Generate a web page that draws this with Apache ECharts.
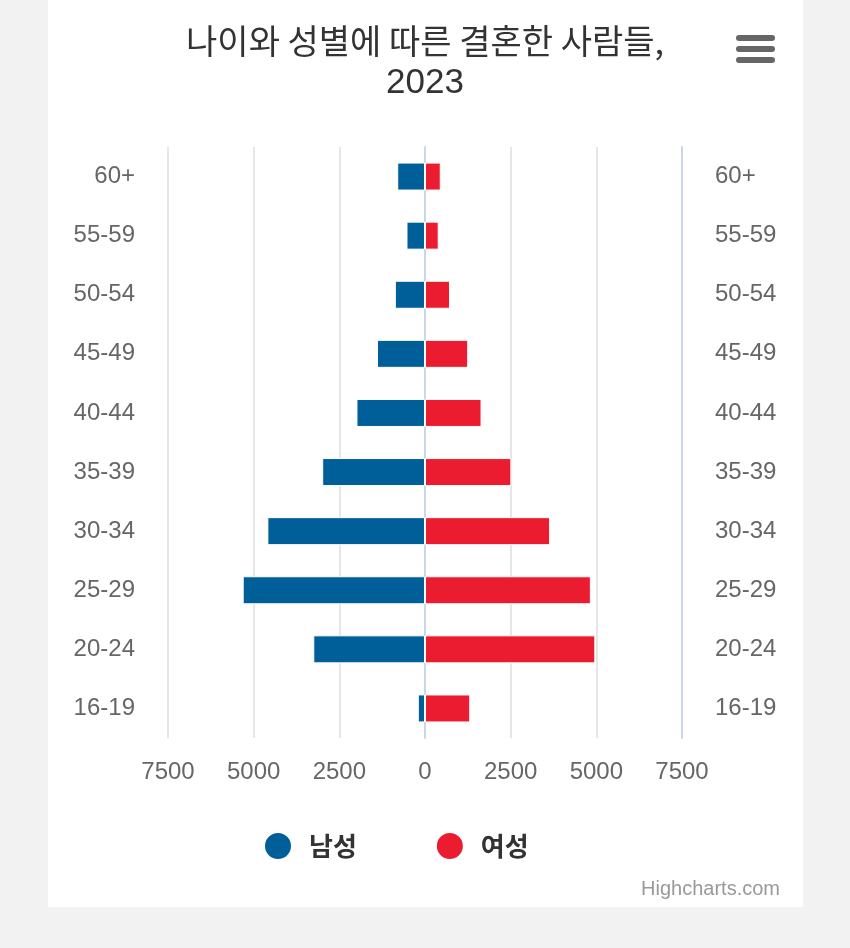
<!DOCTYPE html>
<html>
<head>
<meta charset="utf-8">
<script src="https://cdn.jsdelivr.net/npm/echarts@6/dist/echarts.min.js"></script>
<style>
  html, body { margin: 0; padding: 0; background: #f2f2f2; }
  #card { position: absolute; left: 48px; top: 0; width: 755px; height: 907px; background: #ffffff; }
  #chart { position: absolute; left: 0; top: 0; width: 850px; height: 948px; }
</style>
</head>
<body>
<div id="card"></div>
<div id="chart"></div>
<script>
// Data (bottom to top)
const categories = ['16-19', '20-24', '25-29', '30-34', '35-39', '40-44', '45-49', '50-54', '55-59', '60+'];
const maleValues = [210, 3260, 5320, 4600, 3000, 2000, 1400, 880, 540, 810];
const femaleValues = [1320, 4970, 4840, 3650, 2520, 1650, 1260, 730, 400, 460];
const seriesNames = ['남성', '여성'];
const titleLine1 = '나이와 성별에 따른 결혼한 사람들,';
const titleLine2 = '2023';

const latin = '"Liberation Sans", Arial, Helvetica, sans-serif';
const korean = '"Noto Sans CJK KR", "Liberation Sans", sans-serif';

const chart = echarts.init(document.getElementById('chart'), null, { renderer: 'canvas' });

const catAxisCommon = {
  type: 'category',
  data: categories,
  axisLine: { show: true, lineStyle: { color: '#ccd6eb', width: 2 } },
  axisTick: { show: false },
  axisLabel: { margin: 33, fontSize: 24, color: '#666666', fontFamily: latin },
  splitLine: { show: false }
};

chart.setOption({
  backgroundColor: 'transparent',
  animation: false,
  title: [
    {
      text: titleLine1,
      left: 'center',
      top: 19,
      textStyle: { fontSize: 34, fontWeight: 'normal', color: '#333333', fontFamily: korean }
    },
    {
      text: titleLine2,
      left: 'center',
      top: 61,
      textStyle: { fontSize: 35, fontWeight: 'normal', color: '#333333', fontFamily: latin }
    }
  ],
  legend: {
    data: seriesNames,
    left: 258,
    top: 826,
    icon: 'circle',
    itemWidth: 28,
    itemHeight: 28,
    itemGap: 78,
    textStyle: {
      fontSize: 26,
      fontWeight: 'bold',
      color: '#333333',
      fontFamily: korean,
      padding: [0, 0, 0, 12]
    }
  },
  grid: { left: 168, right: 168, top: 147, bottom: 210, containLabel: false },
  xAxis: {
    type: 'value',
    min: -7500,
    max: 7500,
    interval: 2500,
    axisLine: { show: false },
    axisTick: { show: false },
    splitLine: { show: true, lineStyle: { color: '#e6e6e6', width: 2 } },
    axisLabel: {
      margin: 22,
      fontSize: 24,
      color: '#666666',
      fontFamily: latin,
      formatter: function (v) { return String(Math.abs(v)); }
    }
  },
  yAxis: [
    Object.assign({}, catAxisCommon, { position: 'left' }),
    Object.assign({}, catAxisCommon, { position: 'right' })
  ],
  series: [
    {
      name: seriesNames[0],
      type: 'bar',
      stack: 'total',
      yAxisIndex: 0,
      barWidth: 28,
      itemStyle: { color: '#005e98', borderColor: '#ffffff', borderWidth: 1 },
      data: maleValues.map(function (v) { return -v; })
    },
    {
      name: seriesNames[1],
      type: 'bar',
      stack: 'total',
      yAxisIndex: 0,
      barWidth: 28,
      itemStyle: { color: '#eb1c2f', borderColor: '#ffffff', borderWidth: 1 },
      data: femaleValues
    }
  ],
  graphic: [
    { type: 'rect', shape: { x: 736, y: 35, width: 39, height: 6, r: 3 }, style: { fill: '#666666' } },
    { type: 'rect', shape: { x: 736, y: 46, width: 39, height: 6, r: 3 }, style: { fill: '#666666' } },
    { type: 'rect', shape: { x: 736, y: 57, width: 39, height: 6, r: 3 }, style: { fill: '#666666' } },
    {
      type: 'text',
      x: 780,
      y: 889,
      style: {
        text: 'Highcharts.com',
        fontSize: 20,
        fill: '#999999',
        fontFamily: latin,
        align: 'right',
        verticalAlign: 'middle'
      }
    }
  ]
});
</script>
</body>
</html>
